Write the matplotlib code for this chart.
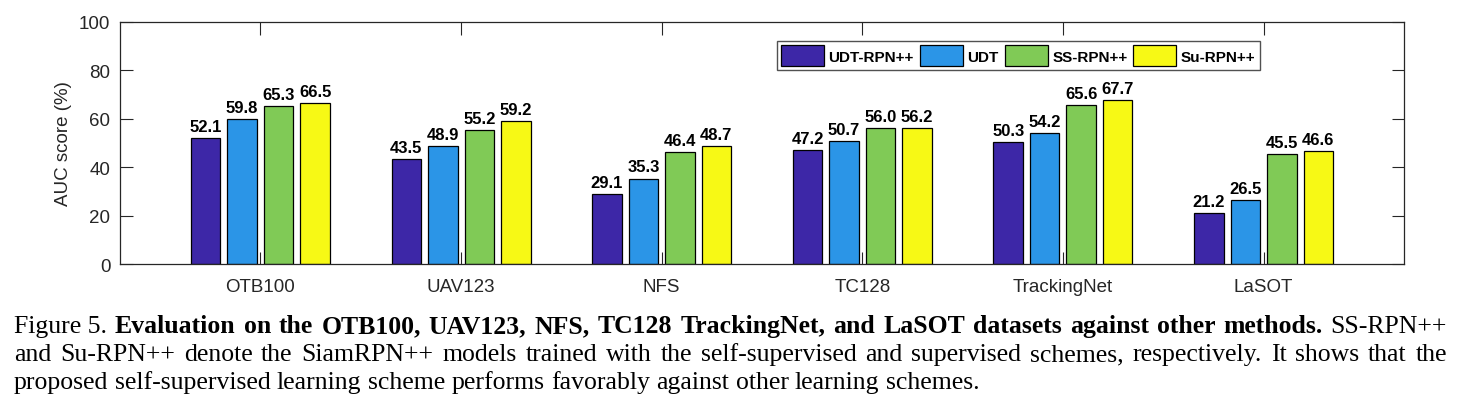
import matplotlib

matplotlib.use("Agg")
import matplotlib.pyplot as plt  # noqa: E402
import numpy as np  # noqa: E402

W, H = 1478, 406

DATASETS = ["OTB100", "UAV123", "NFS", "TC128", "TrackingNet", "LaSOT"]
METHODS = ["UDT-RPN++", "UDT", "SS-RPN++", "Su-RPN++"]
UDT_RPN = [52.1, 43.5, 29.1, 47.2, 50.3, 21.2]
UDT = [59.8, 48.9, 35.3, 50.7, 54.2, 26.5]
SS_RPN = [65.3, 55.2, 46.4, 56.0, 65.6, 45.5]
SU_RPN = [66.5, 59.2, 48.7, 56.2, 67.7, 46.6]
COLORS = ["#3d27a7", "#2b95e7", "#80ca56", "#f7f915"]
YTICKS = [0, 20, 40, 60, 80, 100]

CAPTION = [
    (
        [("Figure 5.", False)]
        + [(w, True) for w in "Evaluation on the OTB100, UAV123, NFS, TC128 TrackingNet, "
           "and LaSOT datasets against other methods.".split()]
        + [("SS-RPN++", False)],
        True,
    ),
    (
        [(w, False) for w in "and Su-RPN++ denote the SiamRPN++ models trained with the "
         "self-supervised and supervised schemes, respectively. It shows that the".split()],
        True,
    ),
    (
        [(w, False) for w in "proposed self-supervised learning scheme performs favorably "
         "against other learning schemes.".split()],
        False,
    ),
]

INK = "#262626"
SANS = "Liberation Sans"
SERIF = "Liberation Serif"

fig = plt.figure(figsize=(W / 100, H / 100), dpi=100)
ax = fig.add_axes([120 / W, 1 - 265.3 / H, 1284 / W, 242.6 / H])

x = np.arange(1, len(DATASETS) + 1)
pitch, width = 0.1818, 0.147
series = [UDT_RPN, UDT, SS_RPN, SU_RPN]
for i, (vals, name, col) in enumerate(zip(series, METHODS, COLORS)):
    pos = x + (i - 1.5) * pitch
    ax.bar(pos, vals, width, color=col, edgecolor="black", linewidth=0.9, label=name, zorder=2)
    for px, v in zip(pos, vals):
        ax.annotate(f"{v:.1f}", (px, v), xytext=(0, 3), textcoords="offset points",
                    ha="center", va="bottom", fontsize=12, fontweight="bold",
                    family=SANS, color="black")

ax.set_xlim(0.3, 6.7)
ax.set_ylim(0, 100)
ax.set_xticks(x)
ax.set_xticklabels(DATASETS)
ax.set_yticks(YTICKS)
ax.tick_params(axis="both", direction="in", length=9, width=0.8, color=INK,
               labelcolor=INK, labelsize=13.5, top=True, right=True)
ax.tick_params(axis="x", pad=10)
ax.tick_params(axis="y", pad=7)
for lab in ax.get_xticklabels() + ax.get_yticklabels():
    lab.set_family(SANS)
for sp in ax.spines.values():
    sp.set_color(INK)
    sp.set_linewidth(0.9)

ax.set_ylabel("AUC score (%)", fontsize=13.5, family=SANS, color=INK)
ax.yaxis.set_label_coords(-0.0376, 0.5)

leg = ax.legend(loc="upper right", bbox_to_anchor=(0.8879, 0.9217), ncol=4,
                frameon=True, fancybox=False, edgecolor=INK, borderaxespad=0,
                prop={"family": SANS, "weight": "bold", "size": 11},
                handlelength=2.8, handleheight=1.7, handletextpad=0.3,
                columnspacing=0.4, borderpad=0.3)
leg.get_frame().set_linewidth(1.0)

# caption below the chart, justified like the paper's typesetting
renderer = fig.canvas.get_renderer()
cap_size = 18.5
x0, x1 = 14, 1447
baselines = [333, 361, 389]
for (words, justify), yb in zip(CAPTION, baselines):
    texts = []
    for word, bold in words:
        texts.append(fig.text(0, 1 - yb / H, word, fontsize=cap_size, family=SERIF,
                              fontweight="bold" if bold else "normal", va="baseline",
                              color="black"))
    widths = [t.get_window_extent(renderer).width for t in texts]
    if justify:
        gap = (x1 - x0 - sum(widths)) / (len(texts) - 1)
    else:
        gap = 0.25 * cap_size * 100 / 72
    cur = x0
    for t, w in zip(texts, widths):
        t.set_x(cur / W)
        cur += w + gap

fig.savefig("out.png", dpi=100)
